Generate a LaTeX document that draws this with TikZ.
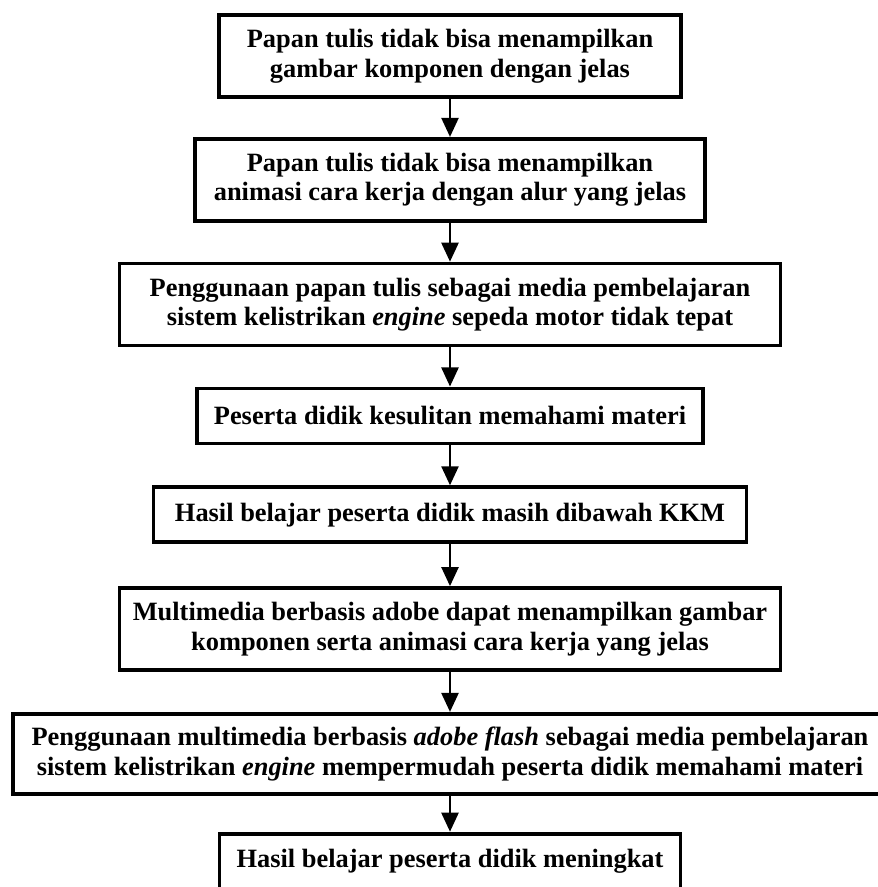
\documentclass[tikz,border=0pt]{standalone}
\usepackage{fontspec}
\setmainfont{Liberation Serif}
\usetikzlibrary{arrows.meta,positioning}

\begin{document}
\begin{tikzpicture}[
  font=\bfseries\fontsize{13.2}{14.8}\selectfont,
  stage/.style={draw=black, line width=1.9pt, align=center, inner sep=2pt,
    minimum height=41pt},
  single/.style={stage, minimum height=27.5pt},
  flow/.style={-{Triangle[length=9.5pt, width=8.5pt]}, draw=black, line width=1.2pt}
]
\useasboundingbox (-225pt,28pt) rectangle (213.5pt,-415.5pt);

\node[stage, minimum width=231pt] (papan) {Papan tulis tidak bisa menampilkan\\
gambar komponen dengan jelas};
\node[stage, minimum width=255pt, below=19pt of papan] (animasi) {Papan tulis tidak bisa menampilkan\\
animasi cara kerja dengan alur yang jelas};
\node[stage, minimum width=330.5pt, below=19.5pt of animasi] (tidaktepat) {Penggunaan papan tulis sebagai media pembelajaran\\
sistem kelistrikan \textit{engine} sepeda motor tidak tepat};
\node[single, minimum width=253pt, below=19.5pt of tidaktepat] (kesulitan) {Peserta didik kesulitan memahami materi};
\node[single, minimum width=296.5pt, below=20pt of kesulitan] (kkm) {Hasil belajar peserta didik masih dibawah KKM};
\node[stage, minimum width=330.5pt, below=21pt of kkm] (adobe) {Multimedia berbasis adobe dapat menampilkan gambar\\
komponen serta animasi cara kerja yang jelas};
\node[stage, minimum width=437pt, minimum height=40pt, below=20pt of adobe] (flash) {Penggunaan multimedia berbasis \textit{adobe flash} sebagai media pembelajaran\\
sistem kelistrikan \textit{engine} mempermudah peserta didik memahami materi};
\node[single, minimum width=230.5pt, below=18pt of flash] (meningkat) {Hasil belajar peserta didik meningkat};

\draw[flow] (papan) -- (animasi);
\draw[flow] (animasi) -- (tidaktepat);
\draw[flow] (tidaktepat) -- (kesulitan);
\draw[flow] (kesulitan) -- (kkm);
\draw[flow] (kkm) -- (adobe);
\draw[flow] (adobe) -- (flash);
\draw[flow] (flash) -- (meningkat);
\end{tikzpicture}
\end{document}
